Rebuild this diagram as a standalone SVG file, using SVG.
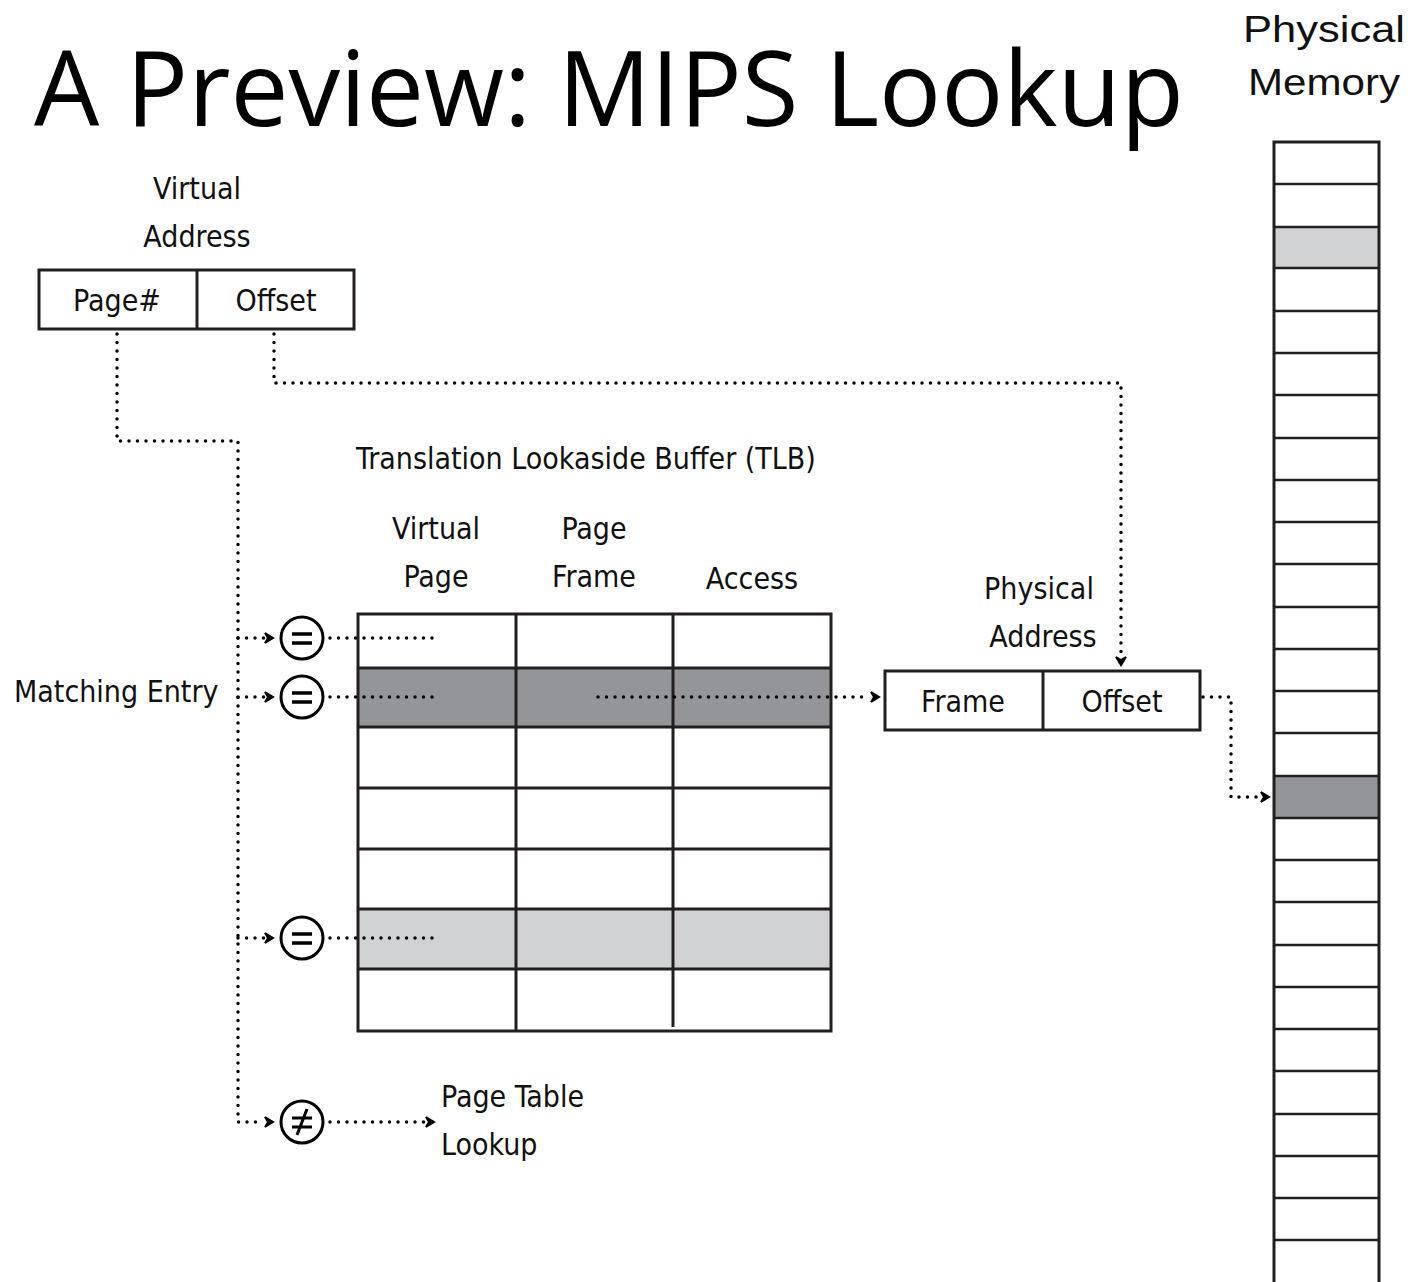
<svg xmlns="http://www.w3.org/2000/svg" width="1420" height="1282" viewBox="0 0 1420 1282">
<defs>
<style>
.t{font-family:"Liberation Sans Narrow","DejaVu Sans Condensed","Liberation Sans",sans-serif;font-size:30px;fill:#111;}
.box{fill:none;stroke:#231f20;stroke-width:3;}
.ln{fill:none;stroke:#231f20;stroke-width:3;}
.mln{fill:none;stroke:#231f20;stroke-width:2.5;}
.dot{fill:none;stroke:#000;stroke-width:3.5;stroke-linecap:round;stroke-dasharray:0 8.5;}
.circ{fill:#fff;stroke:#000;stroke-width:3;}
.arr{fill:#000;stroke:#000;stroke-width:2;stroke-linejoin:miter;}
.pm{font-family:"Liberation Sans",Arial,sans-serif;font-size:37px;fill:#111;}
</style>
</defs>
<rect width="1420" height="1282" fill="#fff"/>
<text x="34" y="126" font-family="'Open Sans','Noto Sans',sans-serif" font-size="104" textLength="1150" lengthAdjust="spacingAndGlyphs" fill="#000">A Preview: MIPS Lookup</text>
<g id="physical-memory">
<text class="pm" x="1243" y="42" textLength="162" lengthAdjust="spacingAndGlyphs">Physical</text>
<text class="pm" x="1248" y="95" textLength="152" lengthAdjust="spacingAndGlyphs">Memory</text>
<rect x="1274" y="227" width="105" height="41" fill="#d1d2d4"/>
<rect x="1274" y="776" width="105" height="42" fill="#939598"/>
<path class="ln" d="M1274,1290 V142 H1379 V1290"/>
<path class="mln" d="M1274,184H1379M1274,227H1379M1274,268H1379M1274,311H1379M1274,353H1379M1274,395H1379M1274,438H1379M1274,480H1379M1274,522H1379M1274,564H1379M1274,607H1379M1274,649H1379M1274,691H1379M1274,733H1379M1274,776H1379M1274,818H1379M1274,860H1379M1274,902H1379M1274,945H1379M1274,987H1379M1274,1029H1379M1274,1071H1379M1274,1114H1379M1274,1156H1379M1274,1198H1379M1274,1240H1379"/>
</g>
<g id="virtual-address">
<text class="t" x="197" y="199" text-anchor="middle">Virtual</text>
<text class="t" x="197" y="247" text-anchor="middle">Address</text>
<rect class="box" x="39" y="270" width="315" height="59"/>
<line class="ln" x1="197" y1="270" x2="197" y2="329"/>
<text class="t" x="117" y="311" text-anchor="middle">Page#</text>
<text class="t" x="276" y="311" text-anchor="middle">Offset</text>
</g>
<g id="tlb">
<text class="t" x="586" y="469" text-anchor="middle">Translation Lookaside Buffer (TLB)</text>
<text class="t" x="436" y="539" text-anchor="middle">Virtual</text>
<text class="t" x="436" y="587" text-anchor="middle">Page</text>
<text class="t" x="594" y="539" text-anchor="middle">Page</text>
<text class="t" x="594" y="587" text-anchor="middle">Frame</text>
<text class="t" x="752" y="589" text-anchor="middle">Access</text>
<rect x="358" y="668" width="473" height="59" fill="#939598"/>
<rect x="358" y="909" width="473" height="60" fill="#d1d2d4"/>
<rect class="box" x="358" y="614" width="473" height="417"/>
<path class="ln" d="M516,614V1031M673,614V1027M358,668H831M358,727H831M358,788H831M358,849H831M358,909H831M358,969H831"/>
</g>
<g id="physical-address">
<text class="t" x="1039" y="599" text-anchor="middle">Physical</text>
<text class="t" x="1043" y="647" text-anchor="middle">Address</text>
<rect class="box" x="885" y="671" width="315" height="59"/>
<line class="ln" x1="1043" y1="671" x2="1043" y2="730"/>
<text class="t" x="963" y="712" text-anchor="middle">Frame</text>
<text class="t" x="1122" y="712" text-anchor="middle">Offset</text>
</g>
<g id="matching-entry">
<text class="t" x="14" y="702">Matching Entry</text>
</g>
<g id="page-table-lookup">
<text class="t" x="441" y="1107">Page Table</text>
<text class="t" x="441" y="1155">Lookup</text>
</g>
<g id="connectors">
<path class="dot" d="M117,334V441H238V1122H264"/>
<path class="dot" d="M238,638H264"/>
<path class="dot" d="M238,697H264"/>
<path class="dot" d="M238,938H264"/>
<path class="arr" d="M265,633L273,638L265,643L268,638Z M265,692L273,697L265,702L268,697Z M265,933L273,938L265,943L268,938Z M265,1117L273,1122L265,1127L268,1122Z"/>
<path class="dot" d="M330,638H436M330,697H436M330,938H436"/>
<path class="dot" d="M330,1122H424"/>
<path class="arr" d="M426,1117L434,1122L426,1127L429,1122Z"/>
<path class="dot" d="M274,334V383H1121V656"/>
<path class="arr" d="M1116,657L1121,665L1126,657L1121,660Z"/>
<path class="dot" d="M598,697H869"/>
<path class="arr" d="M871,692L879,697L871,702L874,697Z"/>
<path class="dot" d="M1203,697H1231V797H1257"/>
<path class="arr" d="M1261,792L1269,797L1261,802L1264,797Z"/>
</g>
<g id="comparators">
<circle class="circ" cx="302" cy="638" r="21"/>
<path d="M292,634H312M292,643H312" stroke="#000" stroke-width="3.5"/>
<circle class="circ" cx="302" cy="697" r="21"/>
<path d="M292,693H312M292,702H312" stroke="#000" stroke-width="3.5"/>
<circle class="circ" cx="302" cy="938" r="21"/>
<path d="M292,934H312M292,943H312" stroke="#000" stroke-width="3.5"/>
<circle class="circ" cx="302" cy="1122" r="21"/>
<path d="M292,1118H312M292,1127H312M307,1109L297,1135" stroke="#000" stroke-width="3"/>
</g>
</svg>
